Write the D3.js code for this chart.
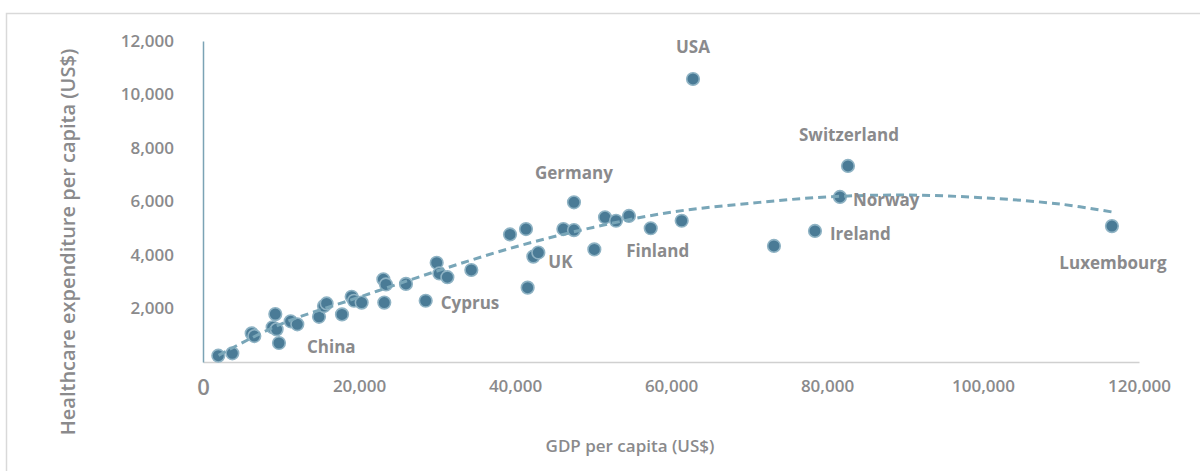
<!DOCTYPE html>
<html>
<head>
<meta charset="utf-8">
<script src="https://cdn.jsdelivr.net/npm/d3@7"></script>
<style>
  html, body { margin: 0; padding: 0; background: #ffffff; }
  svg { display: block; }
  text { font-family: "Open Sans", "DejaVu Sans", sans-serif; }
</style>
</head>
<body>
<svg id="chart" width="1200" height="471"></svg>
<script>
// ---- Data ----
const gdpPerCapita = [
  1960, 3760, 6240, 6580, 9270, 8930, 9440, 9740, 11240, 12090,
  14870, 15510, 15850, 17820, 19060, 19360, 20340, 23240, 23120, 23460,
  26020, 28550, 29960, 30300, 31330, 34400, 39360, 41410, 42350, 42990,
  41620, 46200, 47560, 47560, 51540, 52950, 54610, 57400, 50170, 61370,
  62820, 73200, 78460, 81660, 82690, 116530
];
const healthPerCapita = [
  235, 324, 1070, 970, 1790, 1300, 1220, 710, 1520, 1410,
  1690, 2090, 2190, 1780, 2440, 2290, 2220, 2220, 3090, 2900,
  2920, 2290, 3710, 3310, 3170, 3440, 4770, 4970, 3940, 4090,
  2780, 4970, 4930, 5970, 5410, 5280, 5460, 5000, 4210, 5280,
  10580, 4340, 4900, 6170, 7330, 5080
];
const countryNames = [
  "", "", "", "", "", "", "", "China", "", "",
  "", "", "", "", "", "", "", "", "", "",
  "", "Cyprus", "", "", "", "", "", "", "", "UK",
  "", "", "", "Germany", "", "", "", "Finland", "", "",
  "USA", "", "Ireland", "Norway", "Switzerland", "Luxembourg"
];
// trend line (polynomial trendline as drawn in the reference)
const trendX = [2000, 10000, 20000, 30000, 40000, 50000, 60000, 70000, 80000, 90000, 100000, 110000, 116500];
const trendY = [250, 1420, 2420, 3400, 4300, 5030, 5600, 5930, 6170, 6240, 6140, 5900, 5610];
const xTicks = [0, 20000, 40000, 60000, 80000, 100000, 120000];
const yTicks = [2000, 4000, 6000, 8000, 10000, 12000];
const xTitle = "GDP per capita (US$)";
const yTitle = "Healthcare expenditure per capita (US$)";

// ---- Layout / styles ----
const labelLayout = {
  "USA":         { dx: 0,  dy: -32, anchor: "middle" },
  "Switzerland": { dx: 1,  dy: -31, anchor: "middle" },
  "Germany":     { dx: 0,  dy: -30, anchor: "middle" },
  "Norway":      { dx: 13, dy: 3,   anchor: "start" },
  "Ireland":     { dx: 15, dy: 3,   anchor: "start" },
  "Finland":     { dx: 7,  dy: 22,  anchor: "middle" },
  "UK":          { dx: 10, dy: 9,   anchor: "start" },
  "Cyprus":      { dx: 15, dy: 2,   anchor: "start" },
  "China":       { dx: 28, dy: 3,   anchor: "start" },
  "Luxembourg":  { dx: 1,  dy: 36,  anchor: "middle" }
};
const textGray = "#8a8a8c";
const dotFill = "#4a7b96";
const dotStroke = "#8fb3c4";
const trendColor = "#79a6b8";

const svg = d3.select("#chart");

// outer border
svg.append("rect")
  .attr("x", 6.5).attr("y", 13.5).attr("width", 1205).attr("height", 470)
  .attr("fill", "none").attr("stroke", "#d9d9d9").attr("stroke-width", 1.5);

const x = d3.scaleLinear().domain([0, 120000]).range([203, 1139]);
const y = d3.scaleLinear().domain([0, 12000]).range([362, 41]);

const fmt = d3.format(",");

// x axis
const xAxis = svg.append("g").attr("transform", `translate(0,${y(0)})`)
  .call(d3.axisBottom(x).tickValues(xTicks).tickSize(0).tickFormat(fmt));
xAxis.select(".domain").attr("stroke", "#d0d0d0").attr("stroke-width", 1.5);
xAxis.selectAll(".tick text")
  .attr("fill", textGray).attr("font-size", d => d === 0 ? 22 : 17)
  .attr("font-weight", 600)
  .attr("dy", d => d === 0 ? "1.35em" : "1.6em");

// y axis
const yAxis = svg.append("g").attr("transform", `translate(${x(0)},0)`)
  .call(d3.axisLeft(y).tickValues(yTicks).tickSize(0).tickPadding(29).tickFormat(fmt));
yAxis.select(".domain").attr("stroke", "#7ba3b5").attr("stroke-width", 1.5);
yAxis.selectAll(".tick text")
  .attr("fill", textGray).attr("font-size", 17).attr("font-weight", 600);

// axis titles
svg.append("text")
  .attr("x", 630).attr("y", 452)
  .attr("text-anchor", "middle")
  .attr("fill", textGray).attr("font-size", 17).attr("font-weight", 600)
  .text(xTitle);
svg.append("text")
  .attr("transform", `translate(75,242) rotate(-90)`)
  .attr("text-anchor", "middle")
  .attr("fill", textGray).attr("font-size", 20).attr("font-weight", 600)
  .text(yTitle);

// points
const pts = gdpPerCapita.map((g, i) => ({ g, h: healthPerCapita[i], name: countryNames[i] }));
svg.append("g").selectAll("circle")
  .data(pts).join("circle")
  .attr("cx", d => x(d.g)).attr("cy", d => y(d.h))
  .attr("r", 6.3)
  .attr("fill", dotFill).attr("stroke", dotStroke).attr("stroke-width", 1.6);

// trend line
const trend = trendX.map((t, i) => [t, trendY[i]]);
svg.append("path")
  .datum(trend)
  .attr("d", d3.line().x(d => x(d[0])).y(d => y(d[1])).curve(d3.curveCatmullRom.alpha(0.5)))
  .attr("fill", "none").attr("stroke", trendColor)
  .attr("stroke-width", 3).attr("stroke-dasharray", "8,5");

// data labels
svg.append("g").selectAll("text")
  .data(pts.filter(d => d.name))
  .join("text")
  .attr("x", d => x(d.g) + labelLayout[d.name].dx)
  .attr("y", d => y(d.h) + labelLayout[d.name].dy)
  .attr("text-anchor", d => labelLayout[d.name].anchor)
  .attr("dominant-baseline", "central")
  .attr("fill", textGray).attr("font-size", 17).attr("font-weight", 700)
  .text(d => d.name);
</script>
</body>
</html>
